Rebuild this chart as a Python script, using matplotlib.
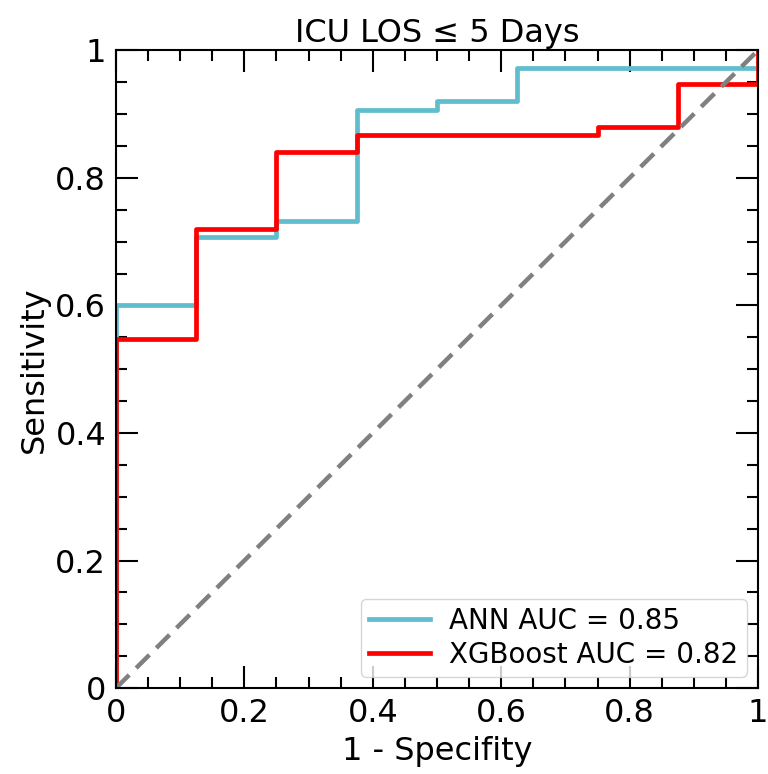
import numpy as np
import matplotlib
matplotlib.use('Agg')
import matplotlib.pyplot as plt
from matplotlib.ticker import MultipleLocator, FormatStrFormatter

# ROC step points (8 negatives, 75 positives)
ann_fpr = [0, 0, 0.125, 0.125, 0.25, 0.25, 0.375, 0.375, 0.5, 0.5, 0.625, 0.625, 1.0, 1.0]
ann_tpr = [0, 0.600, 0.600, 0.707, 0.707, 0.733, 0.733, 0.907, 0.907, 0.920, 0.920, 0.973, 0.973, 1.0]

xgb_fpr = [0, 0, 0.125, 0.125, 0.25, 0.25, 0.375, 0.375, 0.75, 0.75, 0.875, 0.875, 1.0, 1.0]
xgb_tpr = [0, 0.547, 0.547, 0.720, 0.720, 0.840, 0.840, 0.867, 0.867, 0.880, 0.880, 0.947, 0.947, 1.0]

labels = ['ANN AUC = 0.85', 'XGBoost AUC = 0.82']

fig = plt.figure(figsize=(7.68, 7.74), dpi=100)
ax = fig.add_axes([0.151, 0.111, 0.836, 0.824])

ax.plot(ann_fpr, ann_tpr, color='#5fbdce', lw=3.4, label=labels[0])
ax.plot(xgb_fpr, xgb_tpr, color='red', lw=3.4, label=labels[1])
ax.plot([0, 1], [0, 1], color='grey', lw=3.2, linestyle=(0, (4.2, 2.2)))

ax.set_xlim(0, 1)
ax.set_ylim(0, 1)
ax.xaxis.set_major_locator(MultipleLocator(0.2))
ax.yaxis.set_major_locator(MultipleLocator(0.2))
ax.xaxis.set_minor_locator(MultipleLocator(0.05))
ax.yaxis.set_minor_locator(MultipleLocator(0.05))
ax.xaxis.set_major_formatter(FormatStrFormatter('%g'))
ax.yaxis.set_major_formatter(FormatStrFormatter('%g'))
ax.tick_params(which='both', direction='in', top=True, right=True, width=1.5, labelsize=23)
ax.tick_params(which='major', length=16, pad=7)
ax.tick_params(which='minor', length=8)
for s in ax.spines.values():
    s.set_linewidth(1.5)

ax.set_xlabel('1 - Specifity', fontsize=23, labelpad=5)
ax.set_ylabel('Sensitivity', fontsize=23, labelpad=4)
ax.set_title('ICU LOS ≤ 5 Days', fontsize=23, pad=6)
ax.legend(loc='lower right', fontsize=20, handlelength=2.2, handletextpad=0.7,
          borderaxespad=0.4, borderpad=0.3, labelspacing=0.2)

fig.savefig('out.png', dpi=100)
